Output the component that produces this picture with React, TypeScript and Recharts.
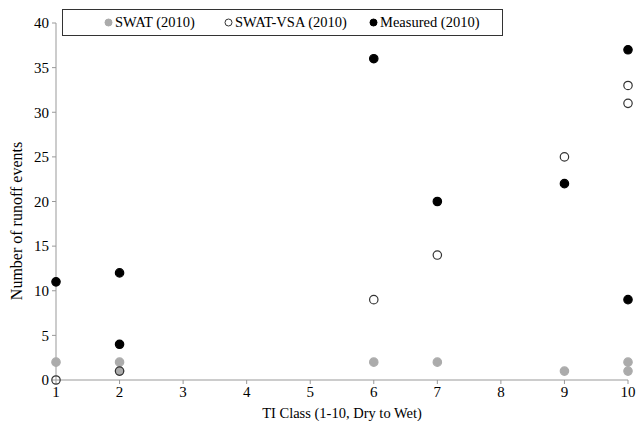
import { ScatterChart, Scatter, XAxis, YAxis, Legend } from "recharts";

const FONT = "'Liberation Serif', 'Times New Roman', serif";

const xTicks = [1, 2, 3, 4, 5, 6, 7, 8, 9, 10];
const yTicks = [0, 5, 10, 15, 20, 25, 30, 35, 40];

const swatClass = [1, 2, 2, 6, 7, 9, 10, 10];
const swatEvents = [2, 2, 1, 2, 2, 1, 2, 1];

const vsaClass = [1, 2, 6, 7, 9, 10, 10];
const vsaEvents = [0, 1, 9, 14, 25, 33, 31];

const measuredClass = [1, 2, 2, 6, 7, 9, 10, 10];
const measuredEvents = [11, 12, 4, 36, 20, 22, 37, 9];

const toPoints = (xs: number[], ys: number[]) => xs.map((x, i) => ({ x, y: ys[i] }));

const SERIES = [
  { name: "SWAT (2010)", data: toPoints(swatClass, swatEvents), fill: "#ABABAB", stroke: "#ABABAB" },
  { name: "SWAT-VSA (2010)", data: toPoints(vsaClass, vsaEvents), fill: "none", stroke: "#333333" },
  { name: "Measured (2010)", data: toPoints(measuredClass, measuredEvents), fill: "#000000", stroke: "#000000" },
];

// legend marker centres inside the box
const LEGEND_X = [46, 166, 311];

const Dot = (props: any) => {
  const { cx, cy, fill, stroke } = props;
  if (cx == null || cy == null) return null;
  return <circle cx={cx} cy={cy} r={4.2} fill={fill} stroke={stroke} strokeWidth={1.2} />;
};

const LegendBox = () => (
  <div
    style={{
      position: "relative",
      width: 441,
      height: 27,
      border: "1px solid #333",
      boxSizing: "border-box",
      fontFamily: FONT,
      fontSize: 14.5,
      color: "#000",
      background: "#fff",
    }}
  >
    {SERIES.map((s, i) => (
      <div
        key={s.name}
        style={{
          position: "absolute",
          left: LEGEND_X[i] - 5,
          top: 3,
          display: "flex",
          alignItems: "center",
          whiteSpace: "nowrap",
          lineHeight: "19px",
        }}
      >
        <svg width={9} height={9} style={{ marginRight: 2, flexShrink: 0 }}>
          <circle
            cx={4.5}
            cy={4.5}
            r={3.5}
            fill={s.fill === "none" ? "#fff" : s.fill}
            stroke={s.stroke}
            strokeWidth={1}
          />
        </svg>
        <span>{s.name}</span>
      </div>
    ))}
  </div>
);

const YLabel = () => (
  <text
    x={16}
    y={221}
    transform="rotate(-90 16 221)"
    textAnchor="middle"
    dominantBaseline="central"
    fill="#000"
    fontSize={16}
    fontFamily={FONT}
  >
    Number of runoff events
  </text>
);

export default function App() {
  return (
    <div style={{ position: "absolute", left: 0, top: 0, background: "#fff" }}>
      <ScatterChart width={640} height={421} margin={{ top: 23, right: 12, bottom: 0, left: 0 }}>
        <XAxis
          type="number"
          dataKey="x"
          domain={[1, 10]}
          ticks={xTicks}
          tickSize={4}
          stroke="#999"
          tick={{ fill: "#000", fontSize: 15, fontFamily: FONT }}
          tickMargin={2}
          height={41}
          label={{
            value: "TI Class (1-10, Dry to Wet)",
            position: "insideBottom",
            offset: 3,
            style: { fill: "#000", fontSize: 14.5, fontFamily: FONT },
          }}
        />
        <YAxis
          type="number"
          dataKey="y"
          domain={[0, 40]}
          ticks={yTicks}
          tickSize={4}
          stroke="#999"
          width={56}
          tick={{ fill: "#000", fontSize: 15, fontFamily: FONT }}
          tickMargin={3}
          label={{ content: () => <YLabel /> }}
        />
        <Legend
          content={() => <LegendBox />}
          layout="horizontal"
          verticalAlign="middle"
          align="center"
          wrapperStyle={{ position: "absolute", left: 62, top: 9, width: 441 }}
        />
        {SERIES.map((s) => (
          <Scatter
            key={s.name}
            name={s.name}
            data={s.data}
            fill={s.fill}
            stroke={s.stroke}
            shape={<Dot />}
            isAnimationActive={false}
          />
        ))}
      </ScatterChart>
    </div>
  );
}
